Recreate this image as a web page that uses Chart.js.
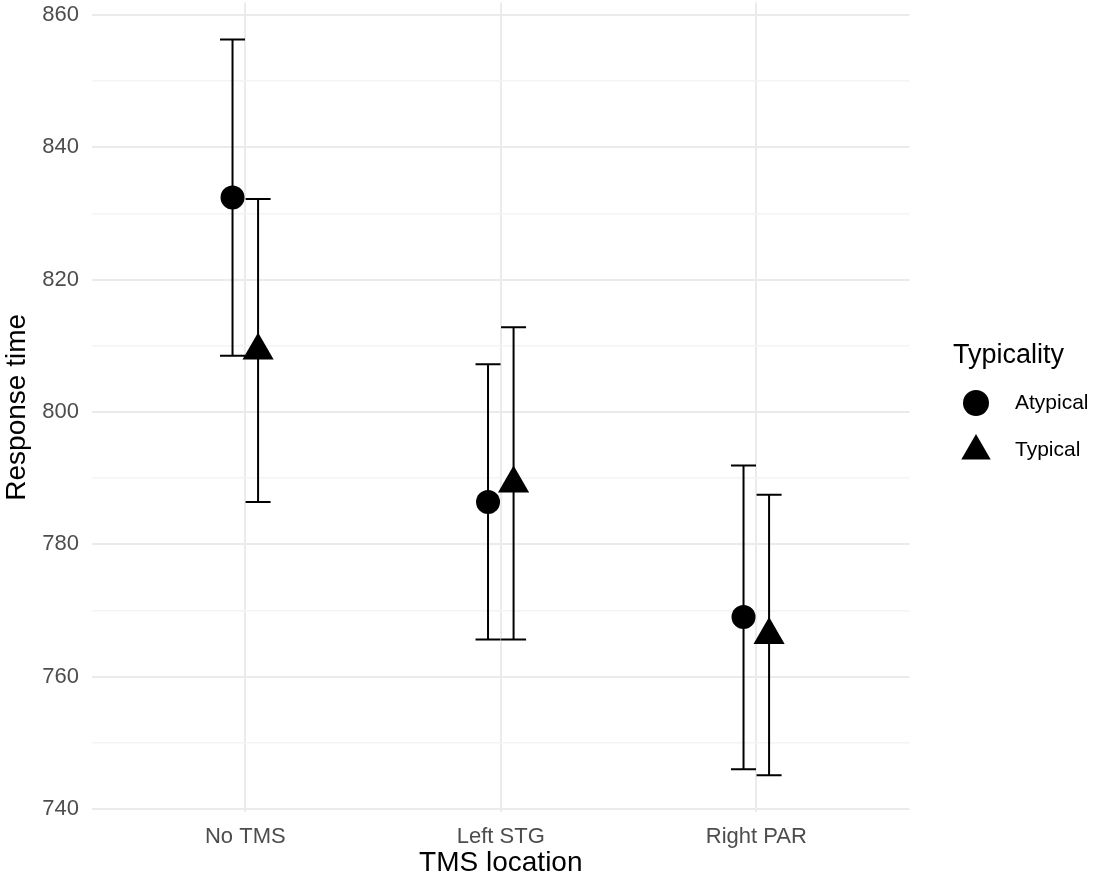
<!DOCTYPE html>
<html>
<head>
<meta charset="utf-8">
<title>Response time by TMS location</title>
<script src="https://cdn.jsdelivr.net/npm/chart.js@4.4.1/dist/chart.umd.min.js"></script>
<style>
  html, body { margin: 0; padding: 0; background: #fff; }
  canvas { display: block; }
</style>
</head>
<body>
<canvas id="rtChart" width="1094" height="880"></canvas>
<script>
// Data
const categories = ["No TMS", "Left STG", "Right PAR"];
const seriesNames = ["Atypical", "Typical"];

const atypicalMean = [832.4, 786.4, 769.0];
const atypicalLower = [808.5, 765.6, 746.0];
const atypicalUpper = [856.3, 807.2, 791.9];

const typicalMean = [809.3, 789.2, 766.3];
const typicalLower = [786.4, 765.6, 745.1];
const typicalUpper = [832.2, 812.8, 787.5];

const yTicks = [740, 760, 780, 800, 820, 840, 860];

// Layout / style settings
const FONT = "'Liberation Sans', Arial, Helvetica, sans-serif";
const dodge = 0.05;
const gridMajor = "#ebebeb";
const gridMinor = "#f4f4f4";

function toPoints(means, lows, highs, shift) {
  return means.map((m, i) => ({ x: i + 1 + shift, y: m, lo: lows[i], hi: highs[i] }));
}

// Error bars drawn under the points
const errorBars = {
  id: "errorBars",
  beforeDatasetsDraw(chart) {
    const ctx = chart.ctx;
    const xs = chart.scales.x;
    const ys = chart.scales.y;
    ctx.save();
    ctx.strokeStyle = "#000";
    ctx.lineWidth = 2;
    chart.data.datasets.forEach(ds => {
      ds.data.forEach(p => {
        const x = xs.getPixelForValue(p.x);
        const yl = ys.getPixelForValue(p.lo);
        const yh = ys.getPixelForValue(p.hi);
        ctx.beginPath();
        ctx.moveTo(x, yl);
        ctx.lineTo(x, yh);
        ctx.moveTo(x - 12.5, yh);
        ctx.lineTo(x + 12.5, yh);
        ctx.moveTo(x - 12.5, yl);
        ctx.lineTo(x + 12.5, yl);
        ctx.stroke();
      });
    });
    ctx.restore();
  }
};

// ggplot-style legend on the right
const sideLegend = {
  id: "sideLegend",
  afterDraw(chart) {
    const ctx = chart.ctx;
    ctx.save();
    ctx.fillStyle = "#000";
    ctx.textBaseline = "middle";
    ctx.textAlign = "left";
    ctx.font = "27px " + FONT;
    ctx.fillText("Typicality", 953, 356);
    ctx.font = "21px " + FONT;
    const rows = [403, 450];
    chart.data.datasets.forEach((ds, i) => {
      const y = rows[i];
      ctx.fillStyle = "#000";
      ctx.strokeStyle = "#000";
      if (ds.pointStyle === "triangle") {
        Chart.helpers.drawPoint(ctx, { pointStyle: "triangle", radius: 17, rotation: 0, borderWidth: 0 }, 976, y + 1);
      } else {
        Chart.helpers.drawPoint(ctx, { pointStyle: "circle", radius: 13, rotation: 0, borderWidth: 0 }, 976, y);
      }
      ctx.fillStyle = "#000";
      ctx.fillText(ds.label, 1015, y);
    });
    ctx.restore();
  }
};

const ctx = document.getElementById("rtChart");
const rtChart = new Chart(ctx.getContext("2d"), {
  type: "scatter",
  data: {
    datasets: [
      {
        label: seriesNames[0],
        data: toPoints(atypicalMean, atypicalLower, atypicalUpper, -dodge),
        pointStyle: "circle",
        pointRadius: 12,
        pointHoverRadius: 12,
        backgroundColor: "#000",
        borderColor: "#000",
        borderWidth: 0,
      },
      {
        label: seriesNames[1],
        data: toPoints(typicalMean, typicalLower, typicalUpper, dodge),
        pointStyle: "triangle",
        pointRadius: 18,
        pointHoverRadius: 18,
        backgroundColor: "#000",
        borderColor: "#000",
        borderWidth: 0,
      },
    ],
  },
  options: {
    responsive: false,
    animation: false,
    layout: {
      autoPadding: false, // points must not push the plot area inwards
      padding: { top: 2.4, right: 184.4, left: 0, bottom: 0 },
    },
    plugins: {
      legend: { display: false },
      tooltip: { enabled: false },
    },
    scales: {
      x: {
        type: "linear",
        min: 0.4,
        max: 3.6,
        afterBuildTicks(scale) {
          scale.ticks = categories.map((c, i) => ({ value: i + 1 }));
        },
        afterFit(scale) {
          scale.height = 67.7;
          scale.paddingLeft = 0;
          scale.paddingRight = 0;
        },
        border: { display: false },
        grid: { color: gridMajor, lineWidth: 2, drawTicks: false },
        ticks: {
          padding: 11,
          color: "#4d4d4d",
          font: { family: FONT, size: 22 },
          callback: value => categories[Math.round(value) - 1] || "",
        },
        title: {
          display: true,
          text: "TMS location",
          color: "#000",
          font: { family: FONT, size: 28 },
          padding: { top: 0, bottom: 0 },
        },
      },
      y: {
        min: 739.5,
        max: 861.9,
        afterBuildTicks(scale) {
          const t = [];
          for (let v = 740; v <= 860; v += 10) t.push({ value: v });
          scale.ticks = t;
        },
        afterFit(scale) {
          scale.width = 92;
          scale.paddingTop = 0;
          scale.paddingBottom = 0;
        },
        border: { display: false },
        grid: {
          drawTicks: false,
          color: c => (yTicks.includes(c.tick.value) ? gridMajor : gridMinor),
          lineWidth: c => (yTicks.includes(c.tick.value) ? 2 : 1.5),
        },
        ticks: {
          padding: 13,
          color: "#4d4d4d",
          font: { family: FONT, size: 22 },
          callback: value => (yTicks.includes(value) ? String(value) : ""),
        },
        title: {
          display: true,
          text: "Response time",
          color: "#000",
          font: { family: FONT, size: 28 },
          padding: { top: 0, bottom: 0 },
        },
      },
    },
  },
  plugins: [errorBars, sideLegend],
});
</script>
</body>
</html>
